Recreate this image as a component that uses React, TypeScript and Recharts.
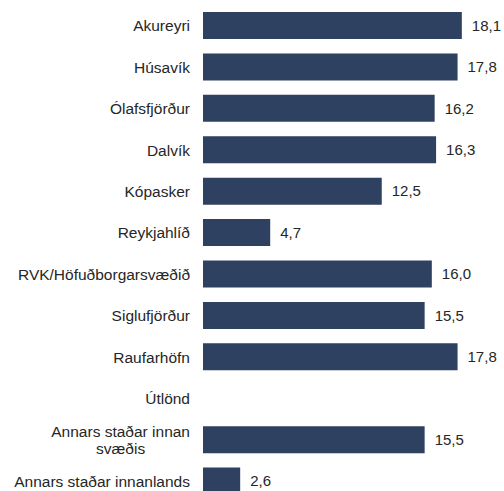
import { BarChart, Bar, XAxis, YAxis, LabelList } from 'recharts';

const categories = [
  'Akureyri',
  'Húsavík',
  'Ólafsfjörður',
  'Dalvík',
  'Kópasker',
  'Reykjahlíð',
  'RVK/Höfuðborgarsvæðið',
  'Siglufjörður',
  'Raufarhöfn',
  'Útlönd',
  'Annars staðar innan svæðis',
  'Annars staðar innanlands',
];

const values: (number | null)[] = [18.1, 17.8, 16.2, 16.3, 12.5, 4.7, 16.0, 15.5, 17.8, null, 15.5, 2.6];

const data = categories.map((name, i) => ({ name, value: values[i] }));

const BAR_COLOR = '#2f4161';
const TEXT_COLOR = '#262626';
const FONT = '"Liberation Sans", Arial, sans-serif';
const FONT_SIZE = 15.5;

let ctx: CanvasRenderingContext2D | null = null;
function measure(text: string) {
  if (!ctx) ctx = document.createElement('canvas').getContext('2d');
  if (!ctx) return text.length * 8;
  ctx.font = `${FONT_SIZE}px ${FONT}`;
  return ctx.measureText(text).width;
}

// Excel wraps the one long label onto two centred lines
function wrapLabel(label: string): string[] {
  if (label.length <= 25) return [label];
  const words = label.split(' ');
  return [words.slice(0, -1).join(' '), words[words.length - 1]];
}

function CategoryTick(props: any) {
  const { x, y, payload } = props;
  const lines = wrapLabel(payload.value);
  if (lines.length === 1) {
    return (
      <text x={x} y={y} dy="0.36em" textAnchor="end" fill={TEXT_COLOR} fontSize={FONT_SIZE} fontFamily={FONT}>
        {lines[0]}
      </text>
    );
  }
  const blockW = Math.max(...lines.map(measure));
  const cx = x - blockW / 2;
  const lh = 16.5;
  const top = y - ((lines.length - 1) * lh) / 2;
  return (
    <text textAnchor="middle" fill={TEXT_COLOR} fontSize={FONT_SIZE} fontFamily={FONT}>
      {lines.map((l, i) => (
        <tspan key={i} x={cx} y={top + i * lh} dy="0.36em">
          {l}
        </tspan>
      ))}
    </text>
  );
}

const fmt = (v: any) => (v == null ? '' : Number(v).toFixed(1).replace('.', ','));

export default function App() {
  return (
    <div style={{ position: 'absolute', top: 0, left: 0, width: 504, height: 491, overflow: 'hidden', background: '#fff' }}>
      <BarChart
        width={504}
        height={505}
        data={data}
        layout="vertical"
        margin={{ top: 5, right: 15, bottom: 3, left: 0 }}
        barSize={27}
      >
        <XAxis type="number" domain={[0, 20]} hide />
        <YAxis
          type="category"
          dataKey="name"
          width={203}
          interval={0}
          axisLine={false}
          tickLine={false}
          tickSize={0}
          tickMargin={13}
          tick={<CategoryTick />}
        />
        <Bar dataKey="value" fill={BAR_COLOR} isAnimationActive={false}>
          <LabelList
            dataKey="value"
            position="right"
            offset={10}
            formatter={fmt}
            fill={TEXT_COLOR}
            fontSize={15}
            fontFamily={FONT}
          />
        </Bar>
      </BarChart>
    </div>
  );
}
